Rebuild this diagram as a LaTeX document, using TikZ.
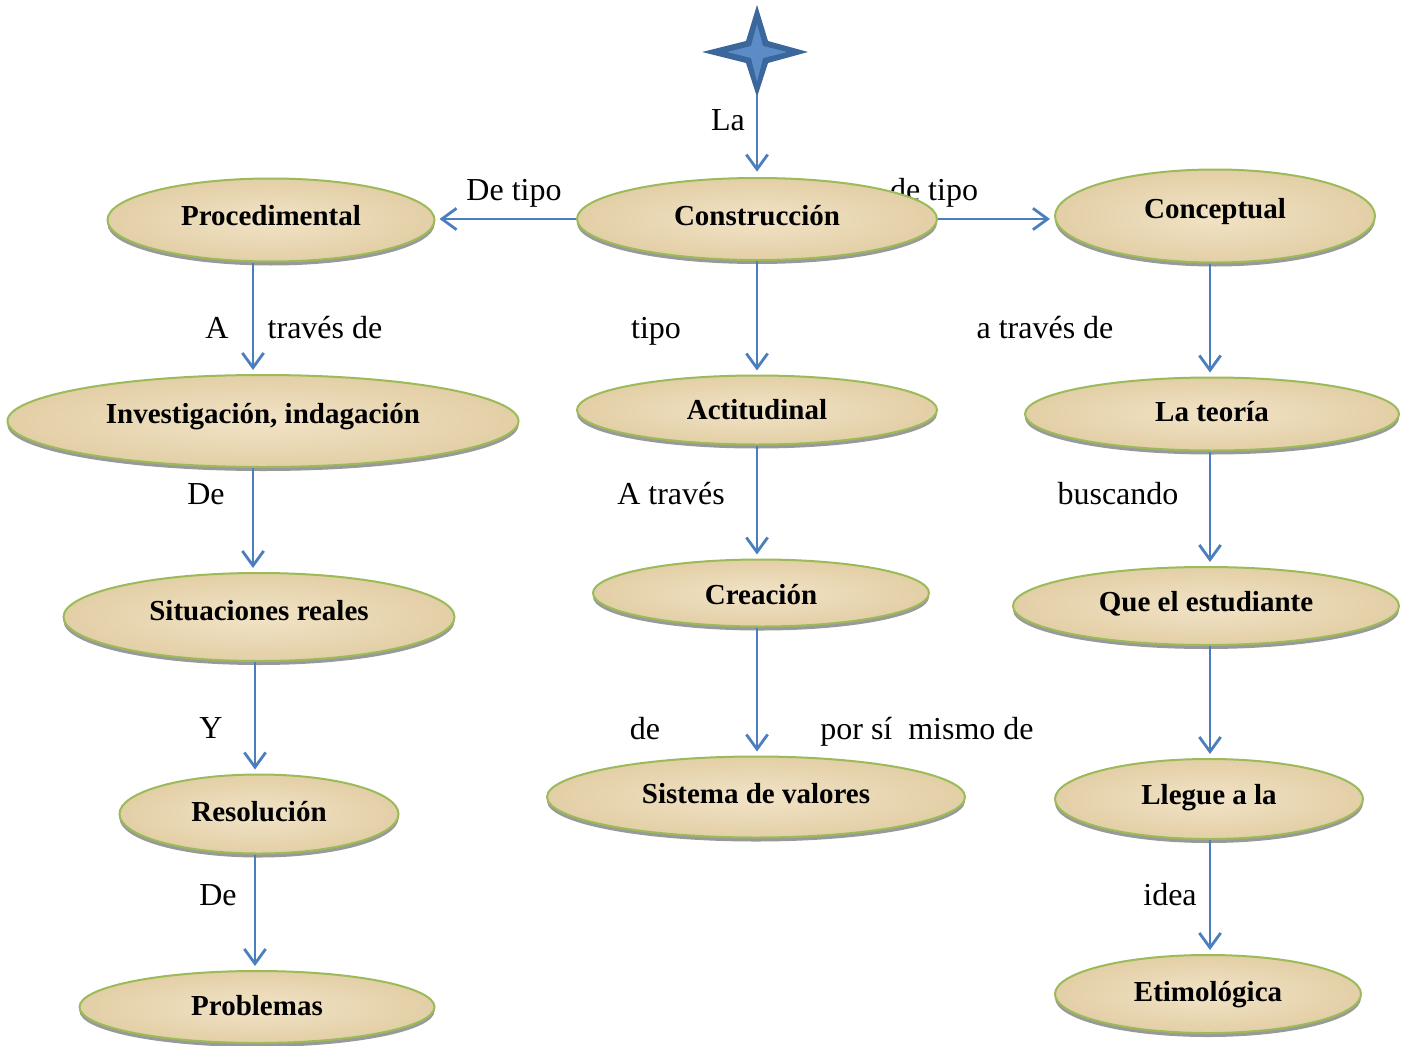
\documentclass[tikz,border=0pt]{standalone}
\usepackage{fontspec}
\setmainfont{Liberation Serif}
\usetikzlibrary{shapes.geometric,arrows.meta,shadows}
\definecolor{arrowblue}{HTML}{4A7EBE}
\definecolor{elliborder}{HTML}{9BBB59}
\definecolor{sandin}{HTML}{F1E3C6}
\definecolor{sandout}{HTML}{E3CFA6}
\definecolor{stardark}{HTML}{3B679C}
\definecolor{starlight}{HTML}{5C8CC8}

\begin{document}
\begin{tikzpicture}[x=0.75pt,y=-0.75pt,
  concept/.style={ellipse, draw=elliborder, line width=1.5pt,
    inner color=sandin, outer color=sandout, inner sep=0pt,
    text height=15pt, text depth=0pt,
    font=\fontsize{21.75}{26}\selectfont\bfseries,
    drop shadow={shadow xshift=0pt, shadow yshift=-3pt, fill=black!50, opacity=0.8}},
  sz/.style 2 args={minimum width=#1*0.75pt, minimum height=#2*0.75pt},
  lift/.style={text depth={max(0,#1)*1.5pt}, text height={15pt+max(0,-#1)*1.5pt}},
  link/.style={draw=arrowblue, line width=2.1pt, shorten >=3pt,
    -{Straight Barb[length=11pt,width=16pt]}},
  tag/.style={font=\fontsize{24}{28}\selectfont, inner sep=0pt,
    text height=16pt, text depth=0pt}]

\fill[white] (0,0) rectangle (1408,1045);
\useasboundingbox (0,0) rectangle (1408,1045);

% column positions of the vertical connectors
\coordinate (colA) at (253,0);
\coordinate (colB) at (255,0);
\coordinate (colM) at (757,0);
\coordinate (colR) at (1210,0);

% link labels
\node[tag] (tLa)    at (728,120) {La};
\node[tag] (tDeTipoL) at (514,190) {De tipo};
\node[tag] (tDeTipoR) at (934,190) {de tipo};
\node[tag] (tA)     at (217,328) {A};
\node[tag] (tTraves) at (325,328) {través de};
\node[tag] (tTipo)  at (656,328) {tipo};
\node[tag] (tATraves) at (1045,328) {a través de};
\node[tag] (tDe1)   at (206,494) {De};
\node[tag] (tATr)   at (671,494) {A través};
\node[tag] (tBusc)  at (1118,494) {buscando};
\node[tag] (tY)     at (211,728) {Y};
\node[tag] (tde)    at (645,729) {de};
\node[tag] (tPorSi) at (927,729) {por sí\ \ mismo de};
\node[tag] (tDe2)   at (218,895) {De};
\node[tag] (tIdea)  at (1170,895) {idea};

% four-pointed star at the top
\coordinate (star) at (757,52);
\coordinate (starfoot) at (757,95);
\fill[stardark] (757,5) -- (768,41) -- (808,52) -- (768,63) -- (757,97)
  -- (746,63) -- (702,52) -- (746,41) -- cycle;
\fill[starlight] (757,24) -- (763,46) -- (787,52) -- (763,58) -- (757,82)
  -- (751,58) -- (727,52) -- (751,46) -- cycle;

% concepts
\node[concept, sz={327}{83}, lift=5]    (proc) at (271,220) {Procedimental};
\node[concept, sz={360}{82}, lift=4]    (cons) at (757,219) {Construcción};
\node[concept, sz={320}{93}, lift=8]    (conc) at (1215,216) {Conceptual};
\node[concept, sz={511}{92}, lift=8]    (inv)  at (263,421) {Investigación, indagación};
\node[concept, sz={360}{69}, lift=1]    (acti) at (757,410) {Actitudinal};
\node[concept, sz={374}{73}, lift=3]    (teo)  at (1212,414) {La teoría};
\node[concept, sz={391}{88}, lift=7]    (sit)  at (259,617) {Situaciones reales};
\node[concept, sz={336}{67}, lift=-1]   (crea) at (761,593) {Creación};
\node[concept, sz={386}{78}, lift=5]    (que)  at (1206,606) {Que el estudiante};
\node[concept, sz={279}{79}, lift=3]    (reso) at (259,814) {Resolución};
\node[concept, sz={418}{81}, lift=4]    (sis)  at (756,797) {Sistema de valores};
\node[concept, sz={308}{80}, lift=5]    (lleg) at (1209,799) {Llegue a la};
\node[concept, sz={355}{72}, lift=2]    (prob) at (257,1007) {Problemas};
\node[concept, sz={306}{78}, lift=3]    (eti)  at (1208,994) {Etimológica};

% connectors
\draw[link, shorten >=4pt] (starfoot) -- (cons.north);
\draw[link] (cons.west) -- (cons.west -| proc.east);
\draw[link] (cons.east) -- (cons.east -| conc.west);

\draw[link] (proc.south -| colA) -- (inv.north -| colA);
\draw[link] (inv.south -| colA) -- (sit.north -| colA);
\draw[link] (sit.south -| colB) -- (reso.north -| colB);
\draw[link] (reso.south -| colB) -- (prob.north -| colB);

\draw[link] (cons.south -| colM) -- (acti.north -| colM);
\draw[link] (acti.south -| colM) -- (crea.north -| colM);
\draw[link] (crea.south -| colM) -- (sis.north -| colM);

\draw[link] (conc.south -| colR) -- (teo.north -| colR);
\draw[link] (teo.south -| colR) -- (que.north -| colR);
\draw[link] (que.south -| colR) -- (lleg.north -| colR);
\draw[link] (lleg.south -| colR) -- (eti.north -| colR);

\end{tikzpicture}
\end{document}
